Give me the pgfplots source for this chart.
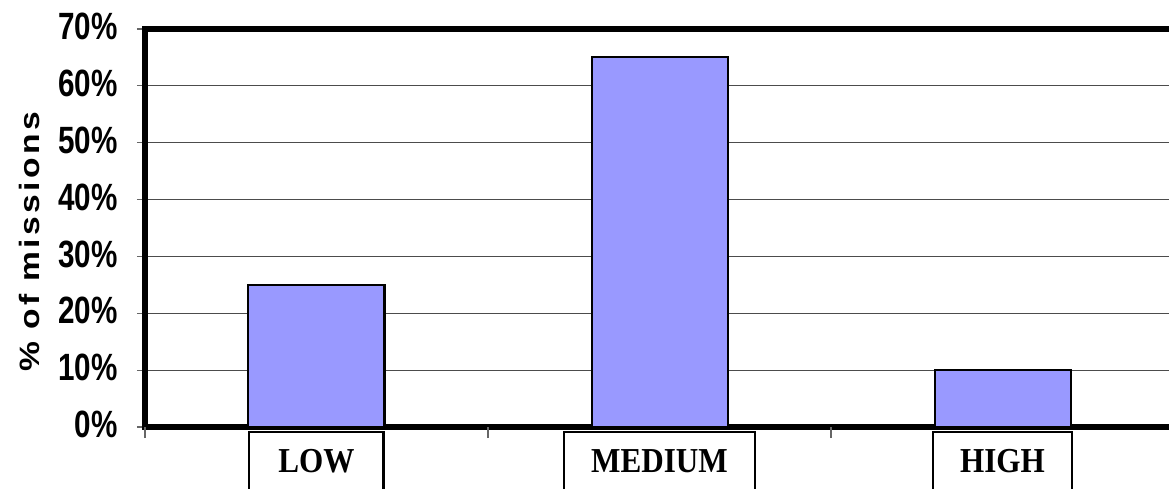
\documentclass[border=0pt]{standalone}
\usepackage{fontspec}
\setmainfont{Liberation Serif}
\newfontfamily\ticksf[FakeStretch=0.78]{Liberation Sans}
\newfontfamily\labsf[FakeStretch=1.2,LetterSpace=12]{Liberation Sans}
\newfontfamily\catf[FakeStretch=0.89]{Liberation Serif}
\usepackage{pgfplots}
\pgfplotsset{compat=1.18}
\definecolor{barblue}{HTML}{9999FF}
\begin{document}
\begin{tikzpicture}
\begin{axis}[
  at={(72.5pt,30.5pt)}, anchor=south west,
  scale only axis, width=514.5pt, height=199pt,
  xmin=-0.5, xmax=2.5, ymin=0, ymax=70,
  ybar, bar width=68pt,
  axis line style={line width=2.75pt},
  tick align=outside, tick pos=left,
  major tick length=4pt,
  /pgf/number format/assume math mode=true,
  ytick={0,10,...,70},
  yticklabel={\pgfmathprintnumber{\tick}\%},
  yticklabel style={anchor=east, inner sep=0pt, xshift=-9.5pt, yshift=1.2pt,
    font=\ticksf\bfseries\fontsize{19}{19}\selectfont},
  ytick style={black!60, line width=0.6pt},
  ymajorgrids, grid style={line width=0.6pt, color=black!70},
  xtick={0,1,2},
  xticklabels={LOW,MEDIUM,HIGH},
  xtick style={draw=none},
  xticklabel style={anchor=north, draw, line width=1pt, minimum width=67pt,
    minimum height=29pt, inner xsep=13.5pt, yshift=2pt,
    font=\catf\bfseries\fontsize{17.5}{17.5}\selectfont},
  extra x ticks={-0.5,0.5,1.5,2.5},
  extra x tick labels={},
  extra x tick style={major tick length=5.5pt,
    xtick style={black!60, line width=0.6pt, draw=black!60},
    xticklabel style={draw=none, minimum width=0pt, minimum height=0pt},
    xmajorgrids=false},
  ylabel={\% of missions},
  ylabel style={at={(axis description cs:-0.112,0.465)}, anchor=center,
    font=\labsf\bfseries\fontsize{14}{14}\selectfont},
]
\addplot[fill=barblue, draw=black, line width=1pt] coordinates {(0,25) (1,65) (2,10)};
\end{axis}
\pgfresetboundingbox
\path[use as bounding box] (0,0) rectangle (584.5pt,244pt);
\end{tikzpicture}
\end{document}
